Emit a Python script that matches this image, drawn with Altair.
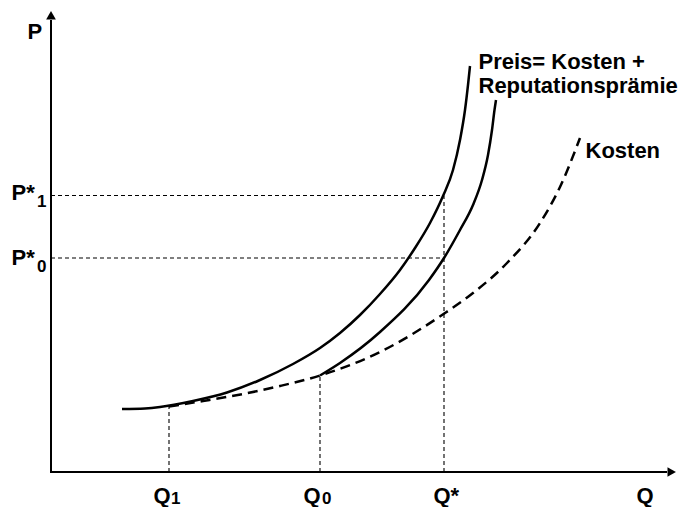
import altair as alt
import pandas as pd

# Curve values (Q = quantity, P = price, arbitrary units)
preis1_q = [71, 94, 109, 142, 176, 209, 242, 269, 289, 309, 329, 349, 364, 379, 392, 402, 409, 414, 417, 419]
preis1_p = [63, 63.6, 65, 71, 79.5, 92, 108, 124, 139, 157, 178, 202, 224, 249, 276, 302, 332, 362, 387, 406]

preis0_q = [269, 289, 329, 378, 393, 409, 422, 431, 437, 441, 443.5, 445]
preis0_p = [96.5, 109, 140, 192, 214, 242, 267, 292, 317, 342, 362, 372]

kosten_q = [118, 152, 192, 229, 269, 329, 394, 422, 456, 489, 509, 529]
kosten_p = [65.5, 71, 78, 86, 96.5, 120, 159, 179, 209, 249, 285, 334]

# Marked quantities and prices
q_marks = [118, 269, 393]
q_tops = [65.5, 96.5, 276.5]
p_marks = [276.5, 214]

# Axis extents
axis_q_end = 616
axis_p_end = 452
arrow_q = 620.7
arrow_p = 456.7

xs = alt.Scale(domain=[-43, 634], nice=False, zero=False)
ys = alt.Scale(domain=[-35, 464], nice=False, zero=False)


def X(f):
    return alt.X(f, type="quantitative", scale=xs, axis=None)


def Y(f):
    return alt.Y(f, type="quantitative", scale=ys, axis=None)


df1 = pd.DataFrame({"q": preis1_q, "p": preis1_p})
df0 = pd.DataFrame({"q": preis0_q, "p": preis0_p})
dfk = pd.DataFrame({"q": kosten_q, "p": kosten_p})

line1 = alt.Chart(df1).mark_line(interpolate="monotone", color="black", strokeWidth=2.5).encode(x=X("q"), y=Y("p"))
line0 = alt.Chart(df0).mark_line(interpolate="monotone", color="black", strokeWidth=2.5).encode(x=X("q"), y=Y("p"))
linek = alt.Chart(dfk).mark_line(interpolate="monotone", color="black", strokeWidth=2.5,
                                  strokeDash=[10, 6]).encode(x=X("q"), y=Y("p"))

vref = pd.DataFrame({"q": q_marks, "p": [0] * 3, "p2": q_tops})
href = pd.DataFrame({"p": p_marks, "q": [0, 0], "q2": [q_marks[2]] * 2})

vrules = alt.Chart(vref).mark_rule(color="black", strokeWidth=1.1, strokeDash=[4, 3]).encode(
    x=X("q"), y=Y("p"), y2="p2")
hrules = alt.Chart(href).mark_rule(color="black", strokeWidth=1.1, strokeDash=[4, 3]).encode(
    y=Y("p"), x=X("q"), x2="q2")

axes = pd.DataFrame({"q": [0, -1], "p": [0, 0], "q2": [0, axis_q_end], "p2": [axis_p_end, 0]})
axis_rules = alt.Chart(axes).mark_rule(color="black", strokeWidth=2).encode(
    x=X("q"), y=Y("p"), x2="q2", y2="p2")

arr_up = alt.Chart(pd.DataFrame({"q": [0], "p": [arrow_p]})).mark_point(
    shape="triangle-up", filled=True, size=95, color="black", opacity=1).encode(x=X("q"), y=Y("p"))
arr_right = alt.Chart(pd.DataFrame({"q": [arrow_q], "p": [0]})).mark_point(
    shape="triangle-right", filled=True, size=95, color="black", opacity=1).encode(x=X("q"), y=Y("p"))

labels = pd.DataFrame({
    "q": [-23.5, -39.5, -39.5, 102.5, 252.5, 382.5, 585.5, 427.5, 427.5, 534.5],
    "p": [433, 272, 207, -30.5, -30.5, -30.5, -30.5, 403, 379, 314],
    "t": ["P", "P*", "P*", "Q", "Q", "Q*", "Q", "Preis= Kosten +", "Reputationsprämie", "Kosten"],
})
subs = pd.DataFrame({
    "q": [-14, -14, 120, 271],
    "p": [265, 200, -32, -32],
    "t": ["1", "0", "1", "0"],
})

txt = alt.Chart(labels).mark_text(align="left", baseline="alphabetic", font="Liberation Sans",
                                   fontWeight="bold", fontSize=22, color="black").encode(
    x=X("q"), y=Y("p"), text="t:N")
subtxt = alt.Chart(subs).mark_text(align="left", baseline="alphabetic", font="Liberation Sans",
                                    fontWeight="bold", fontSize=17, color="black").encode(
    x=X("q"), y=Y("p"), text="t:N")

chart = alt.layer(vrules, hrules, linek, line0, line1, axis_rules, arr_up, arr_right, txt, subtxt).properties(
    width=677, height=499, padding=0
).configure_view(stroke=None)

chart.save("out.html", embed_options={"renderer": "svg", "actions": False})
